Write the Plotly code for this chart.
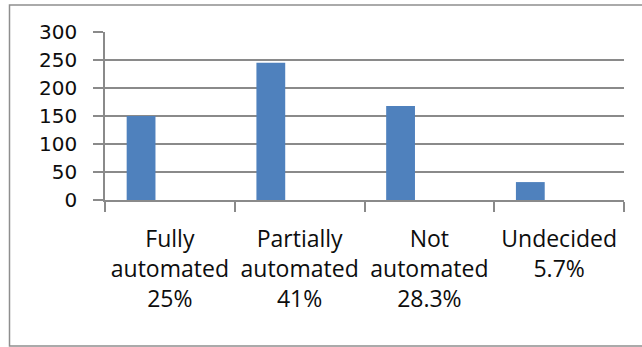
import plotly.graph_objects as go

# Survey responses on automation status
categories = ["Fully automated", "Partially automated", "Not automated", "Undecided"]
shares = ["25%", "41%", "28.3%", "5.7%"]
counts = [150, 245, 168, 32]
y_ticks = [0, 50, 100, 150, 200, 250, 300]

# multi-line category labels: words stacked, share on last line
def stack_label(name, share):
    words = name.split(" ")
    return "<br>".join(words + [share])

x_labels = [stack_label(c, s) for c, s in zip(categories, shares)]

W, H = 642, 347
L, R, T, B = 105, 18, 32, 147
plot_w = W - L - R
plot_h = H - T - B

GRID = "#8a8a8a"
TEXT = "#0d0d0d"

fig = go.Figure()
fig.add_trace(go.Bar(
    x=x_labels,
    y=counts,
    marker=dict(color="#4f81bd", line=dict(width=0)),
    width=0.222,
    offset=-0.333,
    hoverinfo="skip",
))

# chart frame (left, top and bottom edges visible, right runs off the page)
fig.add_shape(
    type="rect", xref="paper", yref="paper",
    x0=(9.5 - L) / plot_w, x1=(W + 6 - L) / plot_w,
    y0=-(346 - (T + plot_h)) / plot_h, y1=(T + plot_h - 5) / plot_h,
    line=dict(color="#8e8e8e", width=1.5), fillcolor="rgba(0,0,0,0)",
    layer="below",
)

fig.update_layout(
    width=W, height=H,
    margin=dict(l=L, r=R, t=T, b=B, pad=0),
    paper_bgcolor="white", plot_bgcolor="white",
    showlegend=False,
    font=dict(family="Open Sans", size=23, color=TEXT),
    xaxis=dict(
        type="category",
        range=[-0.5, 3.5],
        showgrid=False,
        showline=True, linecolor=GRID, linewidth=1.5,
        ticks="outside", ticklen=10, tickcolor=GRID, tickwidth=1.5,
        tickson="boundaries",
        ticklabelstandoff=18,
        tickfont=dict(family="Open Sans", size=23, color=TEXT),
        fixedrange=True,
    ),
    yaxis=dict(
        range=[0, 300],
        tickvals=y_ticks,
        showgrid=True, gridcolor=GRID, gridwidth=1.5,
        showline=True, linecolor=GRID, linewidth=1.5,
        ticks="outside", ticklen=10, tickcolor=GRID, tickwidth=1.5,
        ticklabelstandoff=12,
        zeroline=False,
        tickfont=dict(family="DejaVu Sans", size=20, color=TEXT),
        fixedrange=True,
    ),
)

fig.write_html("out.html", config={"displayModeBar": False})
